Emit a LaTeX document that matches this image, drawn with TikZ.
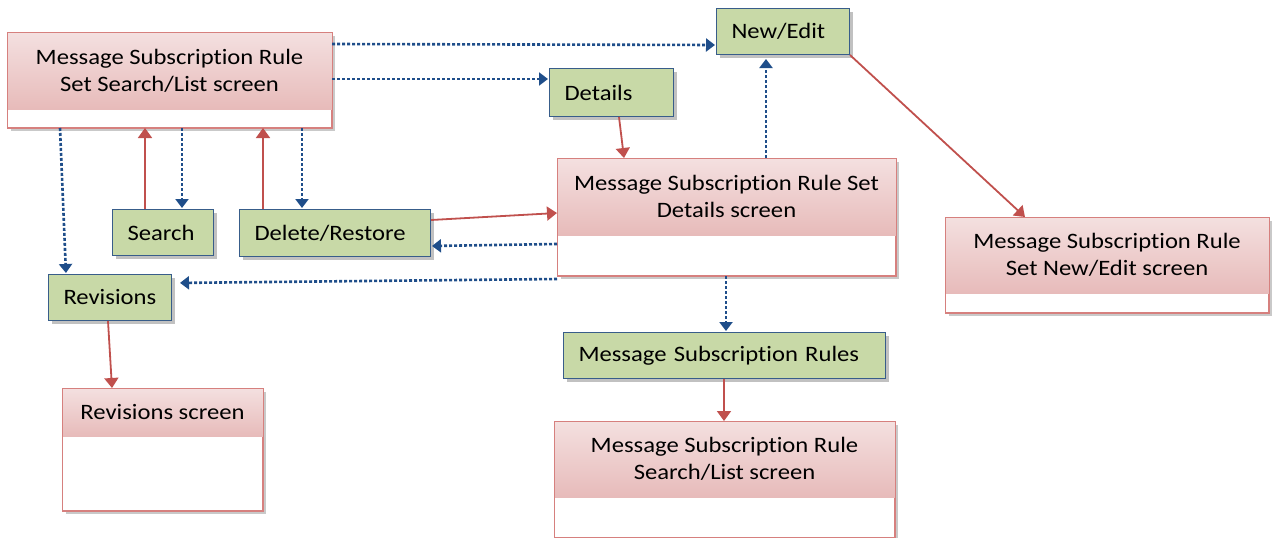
\documentclass[tikz,border=0pt]{standalone}
\usepackage{fontspec}
\setmainfont{Carlito}[FakeStretch=1.12, RawFeature={-liga;-clig;-calt;-dlig}]
\usetikzlibrary{arrows.meta,shadows,calc}
\definecolor{gfill}{RGB}{200,217,167}
\definecolor{gborder}{RGB}{56,93,138}
\definecolor{pborder}{RGB}{214,128,126}
\definecolor{ptop}{RGB}{244,224,224}
\definecolor{pbot}{RGB}{231,187,186}
\definecolor{redline}{RGB}{192,80,77}
\definecolor{blueline}{RGB}{31,78,138}
\tikzset{
  greenbox/.style={draw=gborder, line width=1pt, fill=gfill, anchor=north west,
    inner xsep=15pt, inner ysep=0pt, align=left,
    font=\fontsize{22pt}{27pt}\selectfont,
    drop shadow={shadow xshift=3pt, shadow yshift=-3pt, opacity=0.35, fill=black!70}},
  screenbox/.style={draw=pborder, line width=1pt, fill=white, anchor=north west,
    inner sep=0pt,
    drop shadow={shadow xshift=3pt, shadow yshift=-3pt, opacity=0.3, fill=black!70}},
  header/.style={top color=ptop, bottom color=pbot},
  screentext/.style={align=center, inner sep=0pt, font=\fontsize{22pt}{27pt}\selectfont},
  redarrow/.style={draw=redline, line width=1.8pt, -{Triangle[length=10pt,width=14pt]}},
  bluearrow/.style={draw=blueline, line width=2.6pt, dash pattern=on 3pt off 2pt,
    -{Triangle[length=9pt,width=13pt]}, shorten >=1pt},
}
\newcommand{\screen}[7]{% name, x, y, w, h, header h, text
  \node[screenbox, minimum width=#4pt, minimum height=#5pt] (#1) at (#2,#3) {};
  \shade[header] (#1.north west) rectangle ($(#1.north east)+(0,#6)$);
  \draw[pborder, line width=1pt] (#1.north west) rectangle (#1.south east);
  \node[screentext] (#1-t) at ($(#1.north)+(0,#6/2)$) {#7};
}
\begin{document}
\begin{tikzpicture}[x=1pt,y=-1pt]
\useasboundingbox (0,0) rectangle (1272,538);

% ---------- screen boxes ----------
\screen{ruleset}{7}{32}{324}{95}{77}{Message Subscription Rule\\Set Search/List screen}
\screen{detscr}{557}{158}{338}{117}{77}{Message Subscription Rule Set\\Details screen}
\screen{nescr}{945}{217}{323}{95}{76}{Message Subscription Rule\\Set New/Edit screen}
\screen{revscr}{62}{388}{200}{122}{48}{Revisions screen}
\screen{msrscr}{554}{421}{340}{116}{76}{Message Subscription Rule\\Search/List screen}

% ---------- green action boxes ----------
\node[greenbox, text width=103pt, minimum height=46pt] (newedit) at (716,8) {New/Edit};
\node[greenbox, text width=94pt, minimum height=48pt] (details) at (549,68) {Details};
\node[greenbox, text width=71pt, minimum height=46pt] (search) at (112,209) {Search};
\node[greenbox, text width=161pt, minimum height=47pt] (delrest) at (239,209) {Delete/Restore};
\node[greenbox, text width=93pt, minimum height=46pt] (revisions) at (48,274) {Revisions};
\node[greenbox, text width=292pt, minimum height=46pt] (msrules) at (563,332) {Message Subscription Rules};

% ---------- connectors ----------
\draw[bluearrow] ($(ruleset.north east)+(0,12)$) -- ($(newedit.south west)+(0,-10)$);
\draw[bluearrow] ($(ruleset.north east)+(0,47)$) -- ($(details.north west)+(0,11)$);
\draw[bluearrow] ($(ruleset.south west)+(53,0)$) -- ($(revisions.north west)+(18,0)$);

\coordinate (s1) at ($(search.north west)+(33,0)$);
\draw[redarrow] (s1) -- (s1 |- ruleset.south);
\coordinate (s2) at ($(search.north west)+(70,0)$);
\draw[bluearrow] (s2 |- ruleset.south) -- (s2);

\coordinate (d1) at ($(delrest.north west)+(24,0)$);
\draw[redarrow] (d1) -- (d1 |- ruleset.south);
\coordinate (d2) at ($(delrest.north west)+(63,0)$);
\draw[bluearrow] (d2 |- ruleset.south) -- (d2);

\draw[redarrow] ($(delrest.north east)+(0,11)$) -- ($(detscr.north west)+(0,55)$);
\draw[bluearrow] ($(detscr.north west)+(0,86)$) -- ($(delrest.north east)+(0,37)$);

\draw[bluearrow, shorten >=8pt] ($(detscr.south west)+(0,3)$) -- ($(revisions.north east)+(0,9)$);

\draw[redarrow] ($(details.south west)+(70,0)$) -- ($(detscr.north west)+(67,0)$);

\coordinate (n1) at ($(detscr.north west)+(209,0)$);
\draw[bluearrow, shorten >=4pt] (n1) -- (n1 |- newedit.south);

\draw[redarrow] (newedit.south east) -- ($(nescr.north west)+(80,0)$);

\coordinate (m1) at ($(detscr.south west)+(169,0)$);
\draw[bluearrow] (m1) -- (m1 |- msrules.north);

\coordinate (m2) at ($(msrules.south west)+(161,0)$);
\draw[redarrow] (m2) -- (m2 |- msrscr.north);

\draw[redarrow] ($(revisions.south west)+(60,0)$) -- ($(revscr.north west)+(50,0)$);
\end{tikzpicture}
\end{document}
